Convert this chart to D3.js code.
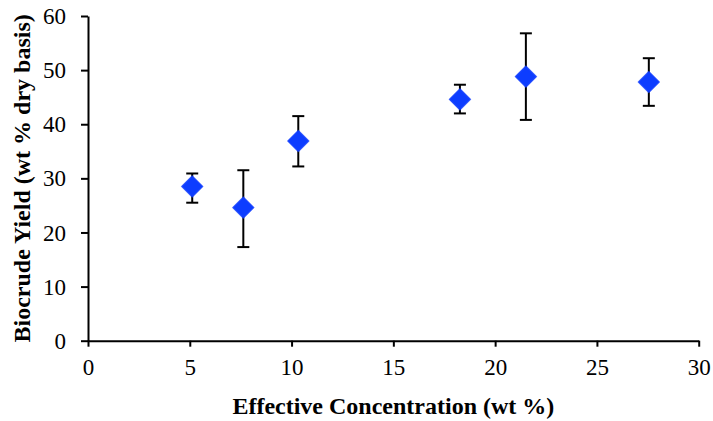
<!DOCTYPE html>
<html>
<head>
<meta charset="utf-8">
<script src="https://cdn.jsdelivr.net/npm/d3@7"></script>
<style>
  body { margin: 0; background: #fff; }
  svg { display: block; }
  text { font-family: "Liberation Serif", "Times New Roman", serif; fill: #000; }
</style>
</head>
<body>
<svg id="chart" width="713" height="421"></svg>
<script>
// ---- data ----
const concentration = [5.12, 7.63, 10.33, 18.27, 21.51, 27.55];
const yieldMean     = [28.5, 24.6, 36.9, 44.6, 48.8, 47.8];
const yieldHigh     = [30.9, 31.5, 41.5, 47.3, 56.8, 52.2];
const yieldLow      = [25.5, 17.3, 32.2, 42.0, 40.8, 43.4];
const xTicks = [0, 5, 10, 15, 20, 25, 30];
const yTicks = [0, 10, 20, 30, 40, 50, 60];
const xTitle = "Effective Concentration (wt %)";
const yTitle = "Biocrude Yield (wt % dry basis)";

const data = concentration.map((c, i) => ({x: c, y: yieldMean[i], hi: yieldHigh[i], lo: yieldLow[i]}));

const svg = d3.select("#chart");
const mLeft = 88, mRight = 698.7, mTop = 16, mBottom = 340.7;
const serif = '"Liberation Serif", "Times New Roman", serif';

const x = d3.scaleLinear().domain([0, 30]).range([mLeft, mRight]);
const y = d3.scaleLinear().domain([0, 60]).range([mBottom, mTop]);

const xAxis = svg.append("g")
  .attr("transform", `translate(0,${mBottom})`)
  .call(d3.axisBottom(x).tickValues(xTicks).tickSize(6).tickSizeOuter(0).tickPadding(9));
const yAxis = svg.append("g")
  .attr("transform", `translate(${mLeft},0)`)
  .call(d3.axisLeft(y).tickValues(yTicks).tickSize(7).tickSizeOuter(0).tickPadding(15));

[xAxis, yAxis].forEach(g => {
  g.attr("font-family", serif).attr("font-size", 23);
  g.select(".domain").attr("stroke", "#000").attr("stroke-width", 2);
  g.selectAll(".tick line").attr("stroke", "#000").attr("stroke-width", 2);
  g.selectAll(".tick text")
    .style("font-family", serif)
    .style("font-size", "23px")
    .attr("fill", "#000");
});
xAxis.selectAll(".tick text").attr("dy", "0.85em");
yAxis.selectAll(".tick text").attr("dy", "0.33em");

// error bars
const eb = svg.append("g").attr("stroke", "#000").attr("stroke-width", 2);
const cap = 6;
data.forEach(d => {
  eb.append("line").attr("x1", x(d.x)).attr("x2", x(d.x)).attr("y1", y(d.hi)).attr("y2", y(d.lo));
  eb.append("line").attr("x1", x(d.x) - cap).attr("x2", x(d.x) + cap).attr("y1", y(d.hi)).attr("y2", y(d.hi));
  eb.append("line").attr("x1", x(d.x) - cap).attr("x2", x(d.x) + cap).attr("y1", y(d.lo)).attr("y2", y(d.lo));
});

// markers
const defs = svg.append("defs");
defs.append("filter").attr("id", "soft")
  .append("feGaussianBlur").attr("stdDeviation", 0.7);
const sym = d3.symbol().type(d3.symbolSquare).size(250);
svg.append("g").selectAll("path").data(data).join("path")
  .attr("d", sym)
  .attr("transform", d => `translate(${x(d.x)},${y(d.y)}) rotate(45)`)
  .attr("fill", "#0a3cff")
  .attr("filter", "url(#soft)");

// titles
svg.append("text")
  .attr("x", (mLeft + mRight) / 2)
  .attr("y", 414)
  .attr("text-anchor", "middle")
  .style("font-family", serif)
  .style("font-size", "24px")
  .style("font-weight", "bold")
  .text(xTitle);

svg.append("text")
  .attr("transform", `translate(30,${(mTop + mBottom) / 2}) rotate(-90)`)
  .attr("text-anchor", "middle")
  .style("font-family", serif)
  .style("font-size", "24px")
  .style("font-weight", "bold")
  .text(yTitle);
</script>
</body>
</html>
